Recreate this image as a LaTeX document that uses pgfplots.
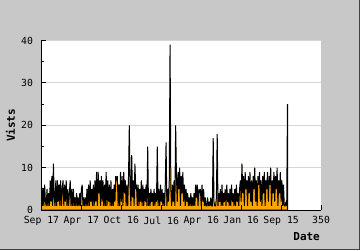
\documentclass[border=0pt]{standalone}
\usepackage{pgfplots}
\pgfplotsset{compat=1.18}
\usepackage{fontspec}
\setmainfont{DejaVu Sans Mono}
\definecolor{bg}{RGB}{200,200,200}
\definecolor{gridc}{RGB}{215,215,215}
\definecolor{fillor}{RGB}{255,165,0}
\pagecolor{bg}
\pgfplotsset{
 layers/mylayers/.define layer set={axis background,axis grid,pre main,main,axis ticks,axis lines,axis tick labels,axis descriptions,axis foreground}{
  grid style={/pgfplots/on layer=axis grid},
  tick style={/pgfplots/on layer=axis ticks},
  axis line style={/pgfplots/on layer=axis lines},
  label style={/pgfplots/on layer=axis descriptions},
  legend style={/pgfplots/on layer=axis descriptions},
  title style={/pgfplots/on layer=axis descriptions},
  colorbar style={/pgfplots/on layer=axis descriptions},
  ticklabel style={/pgfplots/on layer=axis tick labels},
  axis background@ style={/pgfplots/on layer=axis background},
  3d box foreground style={/pgfplots/on layer=axis foreground},
 },
}
\begin{document}
\begin{tikzpicture}
\path (0pt,0pt) rectangle (360pt,250pt);
\draw[black!75, line width=1pt] (359.5pt,250pt) -- (359.5pt,0.5pt) -- (0pt,0.5pt);
\begin{axis}[
 set layers=mylayers,
 at={(41pt,40pt)}, anchor=south west,
 scale only axis, width=280pt, height=170pt,
 xmin=0, xmax=350, ymin=0, ymax=40,
 axis background/.style={fill=white},
 axis x line*=bottom, axis y line*=left,
 x axis line style={-}, y axis line style={-},
 axis line style={black, line width=1pt},
 xtick={0,50,...,350},
 xticklabels={Sep 17,Apr 17,Oct 16,Jul 16,Apr 16,Jan 16,Sep 15,350},
 ytick={0,10,20,30,40},
 minor y tick num=1,
 tick align=inside,
 major tick length=5pt, minor tick length=3pt,
 tick style={black, line width=1pt},
 ymajorgrids,
 grid style={gridc, line width=1pt},
 /pgf/number format/assume math mode=true,
 ticklabel style={font=\fontsize{9.8}{10}\selectfont},
 xticklabel style={yshift=-3pt},
 yticklabel style={xshift=-5pt},
 every axis y label/.style={at={(axis description cs:0,0.5)}, rotate=90, anchor=center, yshift=31pt, font=\fontsize{11}{12}\selectfont\bfseries},
 every axis x label/.style={at={(axis description cs:1,0)}, anchor=east, inner sep=0pt, yshift=-26pt, xshift=-1pt, font=\fontsize{11}{12}\selectfont\bfseries},
 ylabel={Vists}, xlabel={Date},
 clip=true,
]
\addplot[draw=black, line width=1pt, fill=fillor, line join=miter, miter limit=2] coordinates {
(0,6)(1,1)(2,5)(3,1)(4,6)(5,2)(6,1)(7,5)(8,1)(9,4)
(10,1)(11,7)(12,2)(13,8)(14,1)(15,11)(16,3)(17,1)(18,7)(19,1)
(20,7)(21,2)(22,6)(23,1)(24,7)(25,1)(26,5)(27,7)(28,1)(29,6)
(30,2)(31,7)(32,1)(33,5)(34,1)(35,4)(36,7)(37,1)(38,5)(39,1)
(40,5)(41,1)(42,3)(43,1)(44,4)(45,1)(46,3)(47,1)(48,4)(49,1)
(50,5)(51,6)(52,1)(53,3)(54,1)(55,3)(56,1)(57,5)(58,1)(59,6)
(60,1)(61,7)(62,2)(63,5)(64,1)(65,6)(66,1)(67,7)(68,2)(69,9)
(70,1)(71,9)(72,4)(73,7)(74,1)(75,8)(76,2)(77,7)(78,1)(79,6)
(80,1)(81,9)(82,1)(83,7)(84,2)(85,6)(86,1)(87,7)(88,1)(89,5)
(90,1)(91,6)(92,2)(93,8)(94,7)(95,8)(96,1)(97,6)(98,1)(99,9)
(100,2)(101,8)(102,1)(103,9)(104,4)(105,7)(106,1)(107,6)(108,1)(109,8)
(110,20)(111,6)(112,1)(113,13)(114,3)(115,7)(116,1)(117,11)(118,5)(119,6)
(120,1)(121,6)(122,1)(123,5)(124,2)(125,7)(126,1)(127,6)(128,1)(129,5)
(130,2)(131,6)(132,1)(133,15)(134,1)(135,4)(136,1)(137,5)(138,2)(139,4)
(140,1)(141,5)(142,1)(143,4)(144,2)(145,15)(146,1)(147,5)(148,1)(149,6)
(150,2)(151,5)(152,1)(153,4)(154,1)(155,6)(156,16)(157,1)(158,5)(159,2)
(160,7)(161,39)(162,5)(163,1)(164,6)(165,2)(166,7)(167,1)(168,20)(169,8)
(170,2)(171,9)(172,5)(173,10)(174,1)(175,8)(176,4)(177,9)(178,2)(179,6)
(180,1)(181,5)(182,2)(183,4)(184,1)(185,3)(186,1)(187,4)(188,1)(189,3)
(190,1)(191,4)(192,1)(193,6)(194,3)(195,6)(196,1)(197,5)(198,4)(199,5)
(200,1)(201,6)(202,2)(203,5)(204,1)(205,3)(206,1)(207,1)(208,3)(209,1)
(210,2)(211,1)(212,3)(213,1)(214,1)(215,17)(216,2)(217,1)(218,1)(219,3)
(220,18)(221,1)(222,4)(223,2)(224,5)(225,1)(226,6)(227,1)(228,4)(229,2)
(230,5)(231,1)(232,6)(233,2)(234,4)(235,1)(236,5)(237,1)(238,6)(239,2)
(240,4)(241,1)(242,5)(243,1)(244,6)(245,2)(246,4)(247,1)(248,5)(249,7)
(250,2)(251,11)(252,4)(253,8)(254,1)(255,9)(256,5)(257,7)(258,1)(259,8)
(260,4)(261,9)(262,2)(263,7)(264,1)(265,8)(266,5)(267,10)(268,2)(269,7)
(270,1)(271,8)(272,6)(273,9)(274,2)(275,7)(276,1)(277,8)(278,4)(279,9)
(280,1)(281,7)(282,5)(283,9)(284,2)(285,8)(286,6)(287,10)(288,1)(289,7)
(290,4)(291,9)(292,2)(293,8)(294,5)(295,10)(296,1)(297,7)(298,4)(299,9)
(300,2)(301,7)(302,1)(303,6)(304,1)(305,1)(306,2)(307,1)(308,25)
} \closedcycle;
\end{axis}
\end{tikzpicture}
\end{document}
